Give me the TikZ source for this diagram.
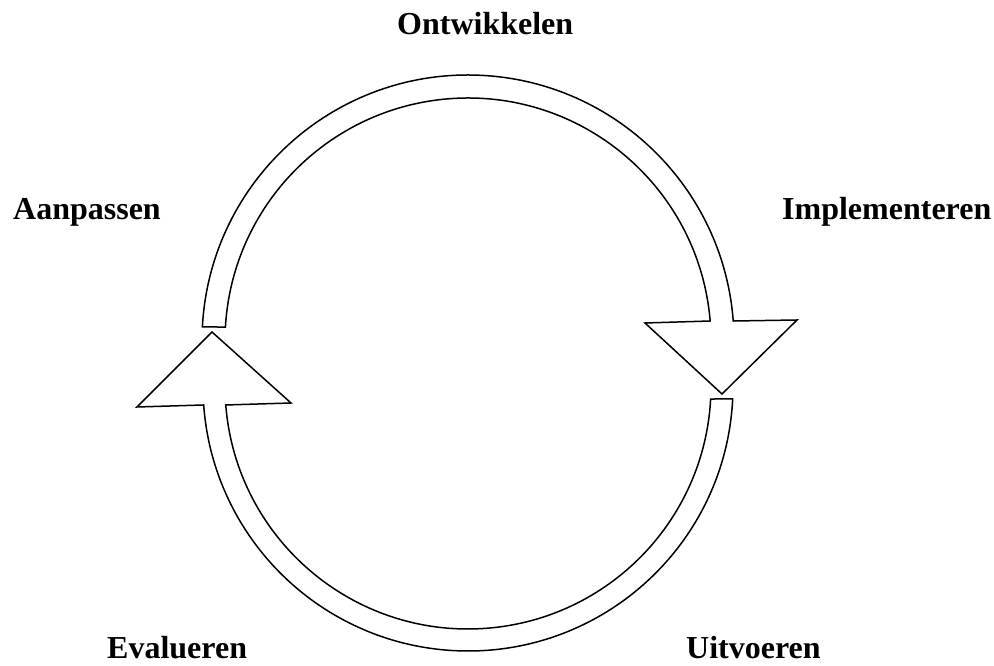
\documentclass[tikz,border=0pt]{standalone}
\usepackage{fontspec}
\setmainfont{Liberation Serif}
\usetikzlibrary{calc}
\begin{document}
\begin{tikzpicture}[x=1pt,y=1pt,
  band/.style={draw=black,line width=1.5pt,fill=white,line join=miter},
  phase/.style={inner sep=0pt,anchor=base west,font=\fontsize{32}{38}\selectfont\bfseries}]
  \useasboundingbox[fill=white] (0,0) rectangle (994,666);

  % centres of the two half-ring bands
  \coordinate (uc) at (468,325);
  \coordinate (lc) at (468,280);

  % arrowhead corners
  \coordinate (rbl) at (645,343);
  \coordinate (rbr) at (797,346);
  \coordinate (rtip) at (722,272);
  \coordinate (lbl) at (137,259);
  \coordinate (lbr) at (291,263);
  \coordinate (ltip) at (212,334);

  % upper band ending in the downward arrow on the right
  \draw[band] ($(uc)+(176.98:266pt)$)
    arc[start angle=176.98,end angle=4.31,radius=266pt]
    -- (rbr) -- (rtip) -- (rbl)
    -- ($(uc)+(4.72:243pt)$)
    arc[start angle=4.72,end angle=176.70,radius=243pt]
    -- cycle;

  % lower band ending in the upward arrow on the left
  \draw[band] ($(lc)+(-3.07:243pt)$)
    -- ($(lc)+(-2.81:265pt)$)
    arc[start angle=-2.81,end angle=-175.89,radius=265pt]
    -- (lbl) -- (ltip) -- (lbr)
    -- ($(lc)+(-175.52:243pt)$)
    arc[start angle=-175.52,end angle=-3.07,radius=243pt]
    -- cycle;

  % phase labels
  \node[phase] (ontw) at (397,631) {Ontwikkelen};
  \node[phase] (impl) at (782,446) {Implementeren};
  \node[phase] (uitv) at (686,7) {Uitvoeren};
  \node[phase] (eval) at (107,7) {Evalueren};
  \node[phase] (aanp) at (13,446) {Aanpassen};
\end{tikzpicture}
\end{document}
